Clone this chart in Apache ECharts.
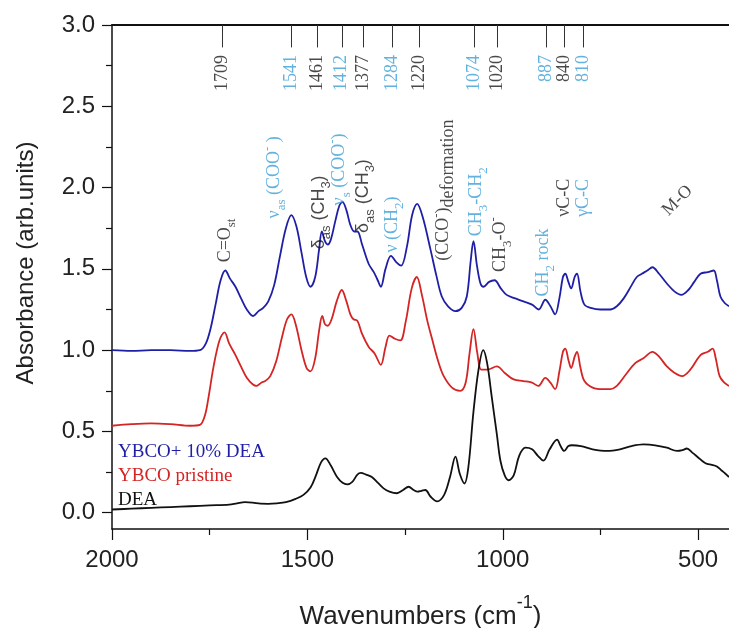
<!DOCTYPE html>
<html>
<head>
<meta charset="utf-8">
<script src="https://cdn.jsdelivr.net/npm/echarts@6/dist/echarts.min.js"></script>
<style>
  html, body { margin: 0; padding: 0; background: #fff; }
  #chart { width: 729px; height: 628px; }
</style>
</head>
<body>
<div id="chart"></div>
<script>
// wavenumber (cm-1) and absorbance for each spectrum
const blueWn = [2000, 1950, 1900, 1850, 1800, 1775, 1760, 1748, 1735, 1722, 1710, 1698, 1684, 1670, 1655, 1639, 1625, 1613, 1600, 1585, 1570, 1555, 1541, 1528, 1515, 1503, 1492, 1480, 1470, 1463, 1455, 1448, 1440, 1428, 1418, 1410, 1400, 1390, 1380, 1372, 1360, 1343, 1330, 1320, 1312, 1300, 1286, 1272, 1260, 1245, 1232, 1219, 1205, 1185, 1170, 1156, 1140, 1121, 1105, 1092, 1082, 1075, 1066, 1057, 1049, 1035, 1021, 1005, 990, 970, 947, 925, 908, 891, 878, 866, 855, 846, 840, 832, 825, 816, 810, 801, 791, 775, 750, 725, 708, 690, 670, 657, 644, 630, 617, 600, 580, 560, 543, 525, 510, 494, 475, 460, 452, 443, 432, 421];
const blueAbs = [1.00, 0.995, 1.00, 1.00, 0.995, 1.00, 1.04, 1.13, 1.28, 1.43, 1.49, 1.44, 1.39, 1.32, 1.25, 1.21, 1.24, 1.26, 1.30, 1.40, 1.58, 1.75, 1.83, 1.76, 1.60, 1.45, 1.39, 1.45, 1.62, 1.73, 1.67, 1.65, 1.68, 1.80, 1.89, 1.91, 1.86, 1.77, 1.73, 1.73, 1.65, 1.53, 1.48, 1.43, 1.39, 1.50, 1.58, 1.54, 1.52, 1.64, 1.83, 1.90, 1.82, 1.62, 1.46, 1.33, 1.27, 1.24, 1.26, 1.33, 1.55, 1.67, 1.52, 1.41, 1.39, 1.42, 1.43, 1.38, 1.34, 1.32, 1.30, 1.28, 1.25, 1.31, 1.27, 1.22, 1.32, 1.45, 1.47, 1.42, 1.38, 1.45, 1.47, 1.36, 1.28, 1.26, 1.25, 1.25, 1.27, 1.32, 1.40, 1.45, 1.47, 1.49, 1.51, 1.47, 1.41, 1.36, 1.34, 1.37, 1.42, 1.47, 1.48, 1.49, 1.43, 1.33, 1.29, 1.27];

const redWn = [2000, 1950, 1900, 1850, 1800, 1775, 1762, 1753, 1740, 1725, 1712, 1700, 1684, 1670, 1655, 1640, 1630, 1618, 1608, 1595, 1580, 1565, 1552, 1541, 1530, 1515, 1502, 1492, 1480, 1470, 1462, 1455, 1448, 1438, 1425, 1412, 1400, 1390, 1382, 1372, 1360, 1343, 1328, 1312, 1300, 1290, 1276, 1262, 1248, 1233, 1220, 1207, 1193, 1181, 1165, 1151, 1130, 1109, 1095, 1085, 1075, 1065, 1055, 1040, 1015, 995, 972, 947, 925, 909, 891, 878, 866, 855, 846, 840, 832, 825, 816, 810, 801, 791, 770, 743, 725, 708, 685, 661, 640, 617, 600, 580, 560, 541, 520, 494, 475, 463, 455, 445, 433, 421];
const redAbs = [0.535, 0.545, 0.55, 0.545, 0.535, 0.54, 0.60, 0.71, 0.90, 1.06, 1.11, 1.04, 0.97, 0.90, 0.83, 0.79, 0.78, 0.80, 0.81, 0.84, 0.93, 1.08, 1.19, 1.22, 1.16, 1.00, 0.89, 0.87, 0.95, 1.12, 1.21, 1.16, 1.15, 1.19, 1.30, 1.37, 1.30, 1.22, 1.19, 1.18, 1.10, 1.02, 0.98, 0.91, 1.02, 1.09, 1.07, 1.06, 1.18, 1.38, 1.45, 1.34, 1.18, 1.07, 0.93, 0.84, 0.77, 0.75, 0.80, 0.98, 1.13, 0.98, 0.88, 0.88, 0.90, 0.86, 0.82, 0.81, 0.80, 0.78, 0.83, 0.80, 0.76, 0.87, 0.99, 1.01, 0.94, 0.89, 0.96, 0.99, 0.89, 0.81, 0.77, 0.76, 0.76, 0.78, 0.85, 0.92, 0.95, 0.99, 0.96, 0.90, 0.86, 0.84, 0.88, 0.97, 0.99, 1.01, 0.95, 0.84, 0.80, 0.78];

const deaWn = [2000, 1950, 1900, 1850, 1800, 1750, 1700, 1680, 1660, 1640, 1620, 1600, 1578, 1555, 1530, 1510, 1492, 1478, 1465, 1454, 1440, 1424, 1410, 1398, 1385, 1372, 1363, 1350, 1335, 1320, 1305, 1290, 1271, 1255, 1241, 1228, 1218, 1208, 1198, 1185, 1168, 1150, 1135, 1121, 1110, 1098, 1088, 1075, 1062, 1050, 1040, 1028, 1015, 1006, 995, 985, 972, 958, 942, 925, 910, 896, 880, 861, 852, 843, 832, 823, 800, 770, 733, 700, 670, 640, 610, 580, 554, 540, 529, 515, 500, 485, 477, 465, 452, 440, 430, 421];
const deaAbs = [0.02, 0.025, 0.03, 0.035, 0.04, 0.045, 0.05, 0.058, 0.065, 0.062, 0.056, 0.055, 0.058, 0.065, 0.085, 0.11, 0.155, 0.23, 0.31, 0.335, 0.29, 0.22, 0.185, 0.175, 0.19, 0.235, 0.245, 0.235, 0.22, 0.185, 0.15, 0.13, 0.12, 0.14, 0.16, 0.14, 0.13, 0.135, 0.14, 0.10, 0.07, 0.11, 0.22, 0.345, 0.24, 0.18, 0.28, 0.62, 0.88, 1.0, 0.92, 0.71, 0.48, 0.32, 0.23, 0.20, 0.23, 0.35, 0.40, 0.39, 0.35, 0.32, 0.39, 0.45, 0.41, 0.38, 0.41, 0.415, 0.41, 0.39, 0.38, 0.39, 0.41, 0.42, 0.415, 0.40, 0.38, 0.385, 0.395, 0.37, 0.34, 0.31, 0.30, 0.295, 0.285, 0.26, 0.24, 0.22];

// peak markers along the top of the plot
const peakPos = [1718, 1541, 1474, 1412, 1358, 1284, 1214, 1073, 1015, 889, 842, 794];
const peakLabels = ['1709', '1541', '1461', '1412', '1377', '1284', '1220', '1074', '1020', '887', '840', '810'];
const peakCyan = [false, true, false, true, false, true, false, true, false, true, false, true];

// band assignments
const noteWn = [1711, 1585, 1470, 1418, 1357, 1283, 1152, 1068, 1006, 896, 842, 794];
const noteAbs = [1.54, 1.81, 1.62, 1.89, 1.72, 1.60, 1.55, 1.70, 1.48, 1.33, 1.82, 1.82];
const noteText = [
  '{n|C=O}{sub|st}',
  '{n|ν}{sub|as}{n| (COO}{sup|-}{n| )}',
  '{s|δ}{ssub|as}{s| (CH}{ssub|3}{s|)}',
  '{n|ν}{sub|s}{n| (COO}{sup|-}{n|)}',
  '{s|δ}{ssub|as}{s| (CH}{ssub|3}{s|)}',
  '{n|ν (CH}{sub|2}{n|)}',
  '{n|(CCO}{sup|-}{n|)}{low|deformation}',
  '{n|CH}{sub|3}{n|-CH}{sub|2}',
  '{n|CH}{sub|3}{n|-O}{sup|-}',
  '{n|CH}{sub|2}{n| rock}',
  '{n|νC-C}',
  '{n|γC-C}'
];
const noteCyan = [false, true, false, true, false, true, false, true, false, true, false, true];
const moWn = 553, moAbs = 1.92;

const serif = '"Liberation Serif", "Times New Roman", serif';
const sans = '"Liberation Sans", Arial, sans-serif';
const cyan = '#3a9fd6';
const dark = '#1a1a1a';

function pairs(xs, ys) {
  return xs.map((x, i) => [x, ys[i]]);
}

function richFor(color) {
  return {
    n: { color: color, fontFamily: serif, fontSize: 18, lineHeight: 27, verticalAlign: 'middle' },
    sub: { color: color, fontFamily: serif, fontSize: 13, lineHeight: 13, verticalAlign: 'bottom' },
    sup: { color: color, fontFamily: serif, fontSize: 13, lineHeight: 13, verticalAlign: 'top' },
    low: { color: color, fontFamily: serif, fontSize: 18, lineHeight: 18, verticalAlign: 'bottom' },
    s: { color: color, fontFamily: sans, fontSize: 18, lineHeight: 27, verticalAlign: 'middle' },
    ssub: { color: color, fontFamily: sans, fontSize: 13, lineHeight: 13, verticalAlign: 'bottom' }
  };
}

const annoData = [];
peakPos.forEach((w, i) => {
  const c = peakCyan[i] ? cyan : dark;
  annoData.push({
    value: [w, 2.815],
    label: { show: true, formatter: peakLabels[i], rotate: 90, align: 'right', verticalAlign: 'middle',
      color: c, fontFamily: serif, fontSize: 18 }
  });
});
noteWn.forEach((w, i) => {
  const c = noteCyan[i] ? cyan : dark;
  annoData.push({
    value: [w, noteAbs[i]],
    label: { show: true, formatter: noteText[i], rotate: 90, align: 'left', verticalAlign: 'middle',
      color: c, rich: richFor(c) }
  });
});
annoData.push({
  value: [moWn, moAbs],
  label: { show: true, formatter: 'M-O', rotate: 45, align: 'center', verticalAlign: 'middle',
    color: dark, fontFamily: serif, fontSize: 18 }
});

const tickLines = peakPos.map(w => [{ coord: [w, 3.0] }, { coord: [w, 2.862] }]);

const xMin = 421, xMax = 2000;
const axisColor = '#111';

var chartDom = document.getElementById('chart');
var myChart = echarts.init(chartDom);
var option = {
  animation: false,
  backgroundColor: '#fff',
  grid: { left: 112, right: 0, top: 25, bottom: 99, outerBoundsMode: 'none', containLabel: false },
  legend: {
    orient: 'vertical',
    left: 108,
    top: 438,
    icon: 'none',
    itemWidth: 0,
    itemHeight: 18,
    itemGap: 5,
    selectedMode: false,
    textStyle: { fontFamily: serif, fontSize: 19 },
    data: [
      { name: 'YBCO+ 10% DEA', textStyle: { color: '#1f1fa6' } },
      { name: 'YBCO pristine', textStyle: { color: '#d42424' } },
      { name: 'DEA', textStyle: { color: '#111' } }
    ]
  },
  xAxis: [
    {
      type: 'value', inverse: true, min: xMin, max: xMax,
      name: '{a|Wavenumbers (cm}{b|-1}{a|)}',
      nameLocation: 'middle', nameGap: 65,
      nameTextStyle: {
        rich: {
          a: { fontFamily: sans, fontSize: 26, color: '#222', lineHeight: 36, verticalAlign: 'bottom' },
          b: { fontFamily: sans, fontSize: 18, color: '#222', lineHeight: 18, verticalAlign: 'top' }
        }
      },
      axisLine: { show: true, onZero: false, lineStyle: { color: axisColor, width: 1.5 } },
      axisTick: { show: true, length: 11, customValues: [2000, 1500, 1000, 500], lineStyle: { color: axisColor, width: 1.2 } },
      axisLabel: { customValues: [2000, 1500, 1000, 500], margin: 19, fontFamily: sans, fontSize: 24, color: '#222',
        formatter: v => String(v) },
      splitLine: { show: false }
    },
    {
      type: 'value', inverse: true, min: xMin, max: xMax, position: 'bottom',
      axisLine: { show: false, onZero: false },
      axisTick: { show: true, length: 6, customValues: [1750, 1250, 750], lineStyle: { color: axisColor, width: 1.2 } },
      axisLabel: { show: false },
      splitLine: { show: false }
    },
    {
      type: 'value', inverse: true, min: xMin, max: xMax, position: 'top',
      axisLine: { show: true, onZero: false, lineStyle: { color: axisColor, width: 2 } },
      axisTick: { show: false },
      axisLabel: { show: false },
      splitLine: { show: false }
    }
  ],
  yAxis: [
    {
      type: 'value', min: -0.1, max: 3.0,
      name: 'Absorbance (arb.units)',
      nameLocation: 'middle', nameGap: 74,
      nameTextStyle: { fontFamily: sans, fontSize: 24, color: '#222', padding: [0, 0, 0, 28] },
      axisLine: { show: true, onZero: false, lineStyle: { color: axisColor, width: 1.5 } },
      axisTick: { show: true, length: 10, customValues: [0, 0.5, 1.0, 1.5, 2.0, 2.5, 3.0], lineStyle: { color: axisColor, width: 1.2 } },
      axisLabel: {
        customValues: [0, 0.5, 1.0, 1.5, 2.0, 2.5, 3.0], margin: 17,
        fontFamily: sans, fontSize: 24, color: '#222',
        formatter: v => v.toFixed(1)
      },
      splitLine: { show: false }
    },
    {
      type: 'value', min: -0.1, max: 3.0, position: 'left',
      axisLine: { show: false, onZero: false },
      axisTick: { show: true, length: 6, customValues: [0.25, 0.75, 1.25, 1.75, 2.25, 2.75], lineStyle: { color: axisColor, width: 1.2 } },
      axisLabel: { show: false },
      splitLine: { show: false }
    }
  ],
  series: [
    {
      name: 'YBCO+ 10% DEA', type: 'line', data: pairs(blueWn, blueAbs),
      showSymbol: false, smooth: 0.35, lineStyle: { color: '#1f1fa6', width: 1.8 }, itemStyle: { color: '#1f1fa6' }
    },
    {
      name: 'YBCO pristine', type: 'line', data: pairs(redWn, redAbs),
      showSymbol: false, smooth: 0.35, lineStyle: { color: '#d42424', width: 1.8 }, itemStyle: { color: '#d42424' }
    },
    {
      name: 'DEA', type: 'line', data: pairs(deaWn, deaAbs),
      showSymbol: false, smooth: 0.35, lineStyle: { color: '#111', width: 1.8 }, itemStyle: { color: '#111' }
    },
    {
      name: 'notes', type: 'scatter', data: annoData,
      symbol: 'circle', symbolSize: 2, itemStyle: { color: 'rgba(0,0,0,0)' }, silent: true, z: 5,
      label: { show: true, position: 'inside' },
      labelLayout: { hideOverlap: false },
      markLine: {
        silent: true, symbol: ['none', 'none'], animation: false,
        label: { show: false },
        lineStyle: { color: '#333', width: 1, type: 'solid' },
        data: tickLines
      }
    }
  ]
};
option && myChart.setOption(option, true);
</script>
</body>
</html>
